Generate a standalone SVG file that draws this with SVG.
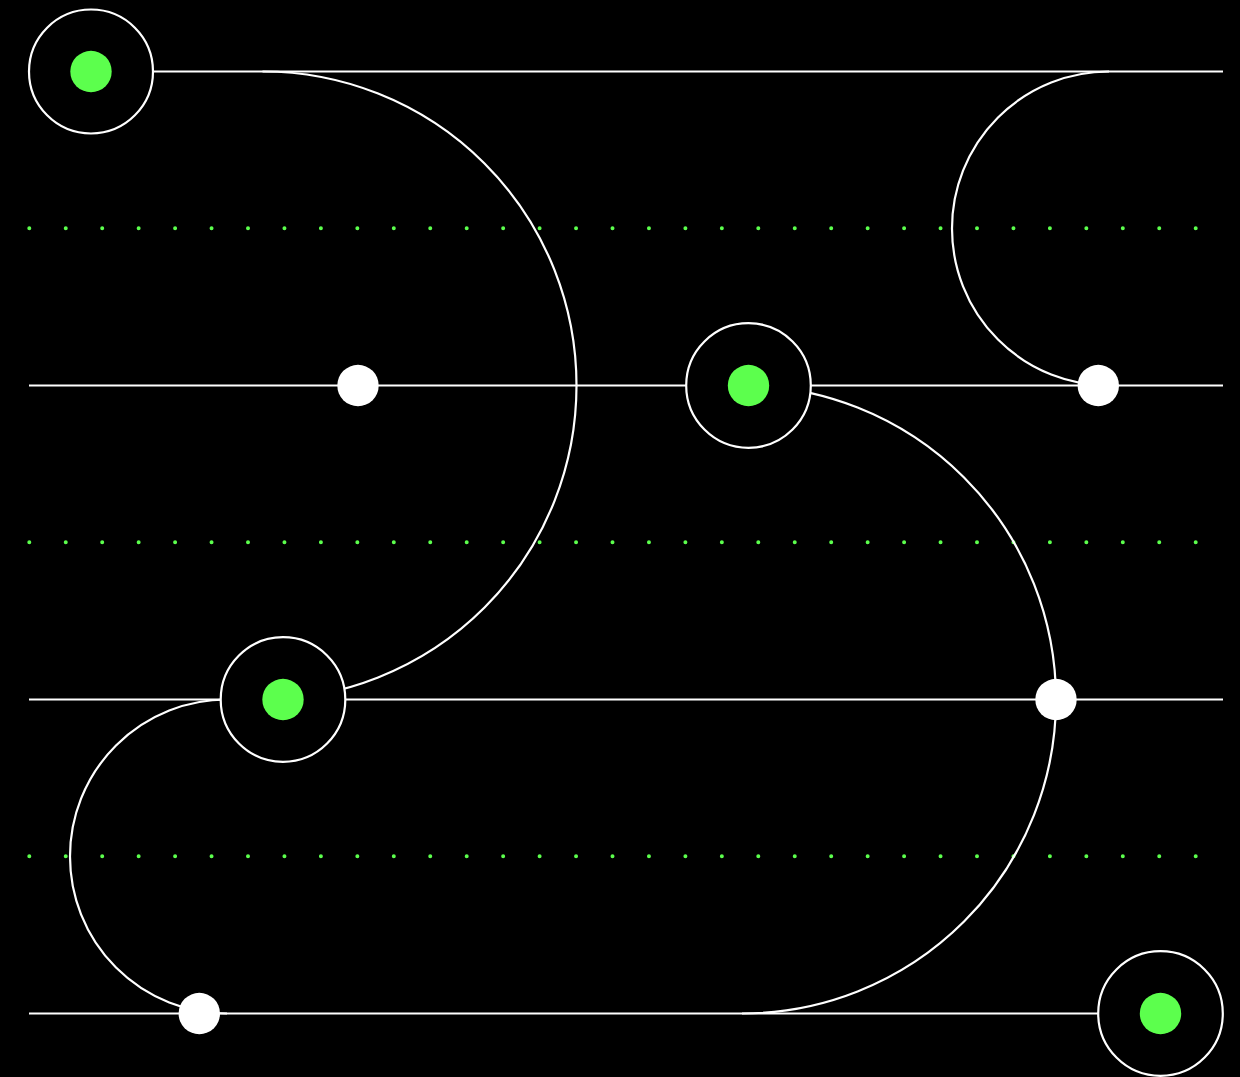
<svg xmlns="http://www.w3.org/2000/svg" width="1240" height="1077" viewBox="0 0 1240 1077">
  <style>
    .ln { fill: none; stroke: #ffffff; stroke-width: 2.2; }
    .dots { fill: none; stroke: #5cff4d; stroke-width: 4; stroke-linecap: round; stroke-dasharray: 0 36.45; }
    .ring { fill: #000000; stroke: #ffffff; stroke-width: 2.2; }
    .core { fill: #5cff4d; }
    .pt { fill: #ffffff; }
  </style>
  <rect x="0" y="0" width="1240" height="1077" fill="#000000"/>
  <g id="dotted-rows">
    <line class="dots" x1="29.3" y1="228.3" x2="1197" y2="228.3"/>
    <line class="dots" x1="29.3" y1="542.3" x2="1197" y2="542.3"/>
    <line class="dots" x1="29.3" y1="856.3" x2="1197" y2="856.3"/>
  </g>
  <g id="connectors">
    <line class="ln" x1="29" y1="71.5" x2="1223" y2="71.5"/>
    <line class="ln" x1="29" y1="385.5" x2="1223" y2="385.5"/>
    <line class="ln" x1="29" y1="699.5" x2="1223" y2="699.5"/>
    <line class="ln" x1="29" y1="1013.5" x2="1223" y2="1013.5"/>
    <path class="ln" d="M262.5,71.5 A314,314 0 0 1 262.5,699.5"/>
    <path class="ln" d="M1109,71.5 A157,157 0 0 0 1109,385.5"/>
    <path class="ln" d="M742,385.5 A314,314 0 0 1 742,1013.5"/>
    <path class="ln" d="M227,699.5 A157,157 0 0 0 227,1013.5"/>
  </g>
  <g id="node-1">
    <circle class="ring" cx="91" cy="71.5" r="62"/>
    <circle class="core" cx="91" cy="71.5" r="20.7"/>
  </g>
  <g id="node-2">
    <circle class="ring" cx="748.5" cy="385.5" r="62.3"/>
    <circle class="core" cx="748.5" cy="385.5" r="20.7"/>
  </g>
  <g id="node-3">
    <circle class="ring" cx="283" cy="699.5" r="62.3"/>
    <circle class="core" cx="283" cy="699.5" r="20.7"/>
  </g>
  <g id="node-4">
    <circle class="ring" cx="1160.5" cy="1013.5" r="62.3"/>
    <circle class="core" cx="1160.5" cy="1013.5" r="20.7"/>
  </g>
  <g id="point-1"><circle class="pt" cx="358" cy="385.5" r="20.7"/></g>
  <g id="point-2"><circle class="pt" cx="1098.3" cy="385.5" r="20.7"/></g>
  <g id="point-3"><circle class="pt" cx="1056" cy="699.5" r="20.7"/></g>
  <g id="point-4"><circle class="pt" cx="199.3" cy="1013.5" r="20.7"/></g>
</svg>
